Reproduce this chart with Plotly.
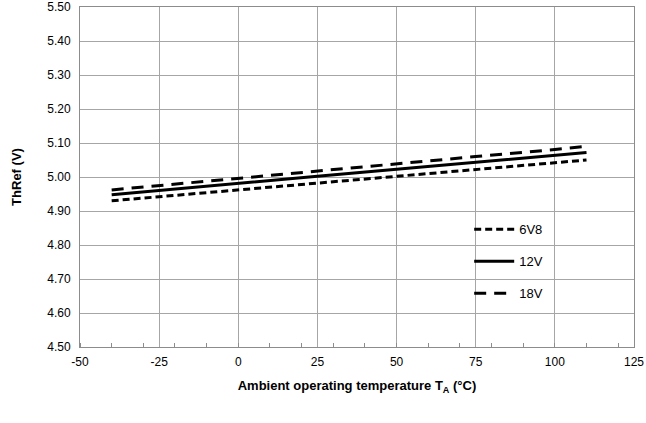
import plotly.graph_objects as go

# Readings taken from the reference chart
temp = [-40, -25, 0, 25, 50, 75, 100, 110]
v_6v8 = [4.930, 4.942, 4.962, 4.982, 5.002, 5.022, 5.042, 5.050]
v_12v = [4.948, 4.960, 4.981, 5.002, 5.023, 5.044, 5.064, 5.072]
v_18v = [4.962, 4.975, 4.996, 5.017, 5.039, 5.060, 5.081, 5.090]

x_ticks = [-50, -25, 0, 25, 50, 75, 100, 125]
x_labels = ["-50", "-25", "0", "25", "50", "75", "100", "125"]

series = [
    ("6V8", v_6v8, "7px,4px"),
    ("12V", v_12v, "solid"),
    ("18V", v_18v, "12px,8px"),
]

fig = go.Figure()
for name, vals, dash in series:
    fig.add_trace(go.Scatter(
        x=temp, y=vals, name=name, mode="lines",
        legendgroup=name,
        line=dict(color="black", width=3, dash=dash),
    ))

grid = "#a6a6a6"
fig.update_xaxes(
    range=[-50, 125], tickvals=x_ticks, ticktext=x_labels,
    showgrid=True, gridcolor=grid, gridwidth=1,
    showline=True, linecolor="#8c8c8c", linewidth=1, mirror=True,
    ticks="outside", ticklen=4, tickcolor="rgba(0,0,0,0)",
    minor=dict(tick0=-50, dtick=10, ticks="inside", ticklen=4, tickcolor="#8c8c8c", showgrid=False),
    zeroline=False, automargin=False, ticklabeloverflow="allow",
    title=dict(text="<b>Ambient operating temperature T<sub>A</sub> (°C)</b>", standoff=12,
               font=dict(size=13)),
)
fig.update_yaxes(
    range=[4.5, 5.5], dtick=0.1, tickformat=".2f",
    showgrid=True, gridcolor=grid, gridwidth=1,
    showline=True, linecolor="#8c8c8c", linewidth=1, mirror=True,
    ticks="outside", ticklen=6, tickcolor="rgba(0,0,0,0)",
    zeroline=False, automargin=False, ticklabeloverflow="allow",
    title=dict(text="<b>ThRef (V)</b>", standoff=22, font=dict(size=13)),
)
fig.update_layout(
    width=646, height=423,
    margin=dict(l=80, r=12, t=7, b=76),
    paper_bgcolor="white", plot_bgcolor="white",
    font=dict(family="Liberation Sans, Arial, sans-serif", size=12, color="black"),
    legend=dict(
        x=0.7025, y=0.39, xanchor="left", yanchor="top",
        bgcolor="rgba(0,0,0,0)", traceorder="grouped", tracegroupgap=12,
        itemwidth=40, font=dict(size=13),
    ),
)

fig.write_html("out.html", config={"displayModeBar": False},
               post_script="document.body.style.margin='0';")
